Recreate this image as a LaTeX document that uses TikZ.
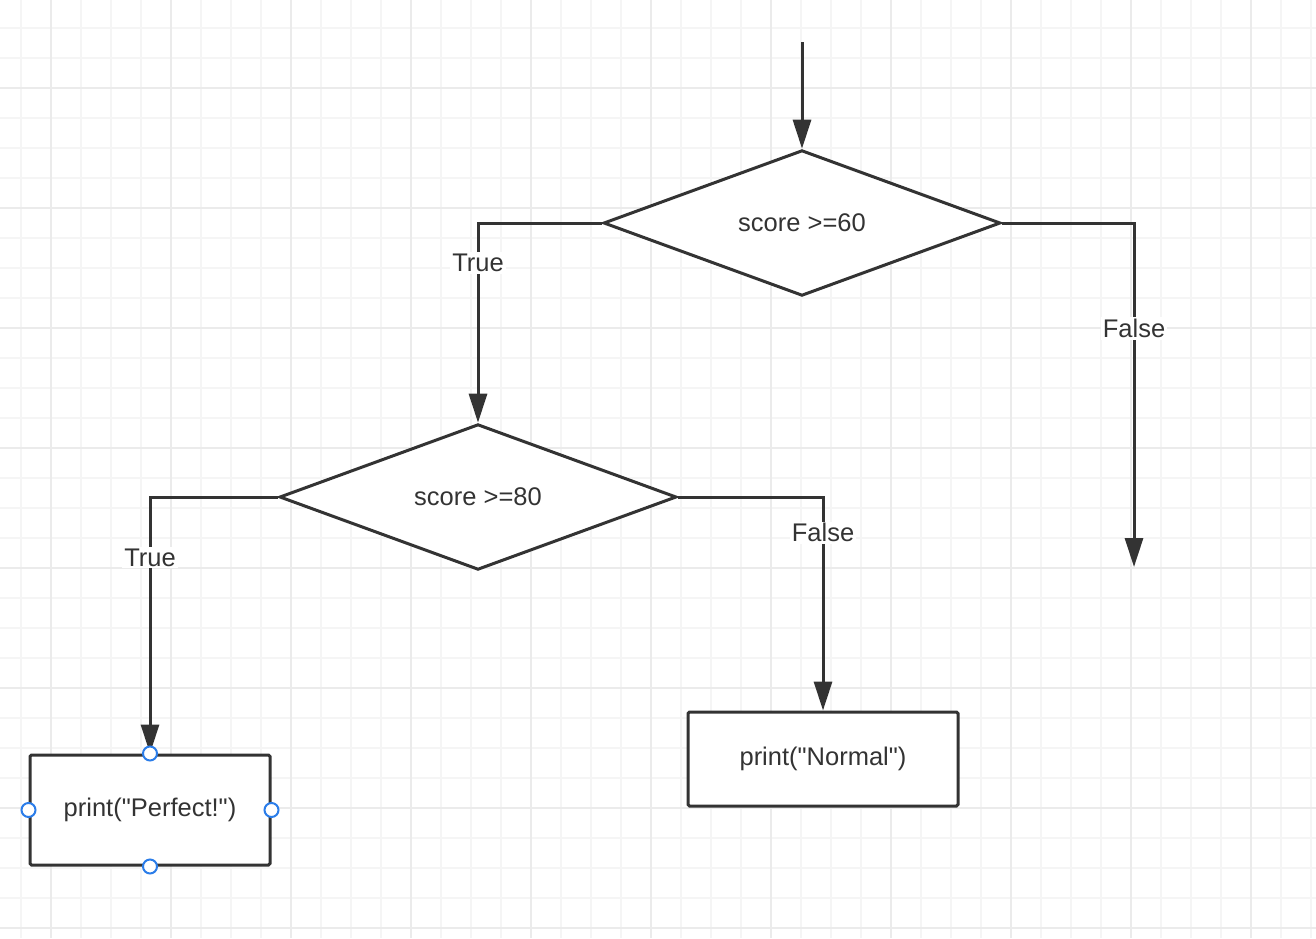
\documentclass[tikz,border=0pt]{standalone}
\usepackage{fontspec}
\setmainfont{Liberation Sans}
\usetikzlibrary{positioning,arrows.meta,shapes.geometric}
\definecolor{ink}{HTML}{333333}
\definecolor{gridminor}{HTML}{F5F5F5}
\definecolor{gridmajor}{HTML}{EBEBEB}
\definecolor{pinblue}{HTML}{2B7DE9}

\begin{document}
\begin{tikzpicture}[
  x=1pt, y=-1pt,
  font=\fontsize{25.5}{30}\selectfont,
  >={Triangle[length=29pt, width=18pt]},
  minor/.style={gridminor, line width=1.5pt},
  major/.style={gridmajor, line width=1.5pt},
  dec/.style={diamond, draw=ink, line width=3pt, fill=white, text=ink, inner sep=0pt, minimum width=397pt, minimum height=142pt},
  box/.style={draw=ink, line width=3pt, rounded corners=1.5pt, fill=white, text=ink},
  ar/.style={->, line width=3pt, ink},
  lbl/.style={fill=white, text=ink, inner sep=2pt},
  pin/.style={circle, draw=pinblue, line width=2pt, fill=white, inner sep=0pt, minimum size=14pt}
]
% grid
\fill[white] (0,0) rectangle (1316,938);
\useasboundingbox (0,0) rectangle (1316,938);
\foreach \gx in {21,51,...,1311} \draw[minor] (\gx,0) -- (\gx,938);
\foreach \gy in {28,58,...,928} \draw[minor] (0,\gy) -- (1316,\gy);
\foreach \gx in {51,171,...,1251} \draw[major] (\gx,0) -- (\gx,938);
\foreach \gy in {88,208,...,928} \draw[major] (0,\gy) -- (1316,\gy);
% decisions
\node[dec] (d60) at (802,223) {score >=60};
\node[dec] (d80) at (478,497) {score >=80};
% outputs
\node[box, minimum width=240pt, minimum height=110pt] (perfect) at (150,810) {print(\textquotedbl Perfect!\textquotedbl)};
\node[box, minimum width=270pt, minimum height=94pt] (normal) at (823,759) {print(\textquotedbl Normal\textquotedbl)};
\coordinate (in) at (802,42);
\coordinate (out) at (1134,567);
% arrows
\draw[ar] (in) -- (d60.north);
\draw[ar] (d60.west) -| node[lbl, pos=0.601] (t60) {True} (d80.north);
\draw[ar] (d60.east) -| node[lbl, pos=0.653] (f60) {False} (out);
\draw[ar] (d80.west) -| node[lbl, pos=0.618] (t80) {True} (perfect.north);
\draw[ar] (d80.east) -| node[lbl, pos=0.584] (f80) {False} (normal.north);
% handles
\node[pin] (hn) at (perfect.north) {};
\node[pin] (hs) at (perfect.south) {};
\node[pin] (hw) at (perfect.west) {};
\node[pin] (he) at (perfect.east) {};
\end{tikzpicture}
\end{document}
